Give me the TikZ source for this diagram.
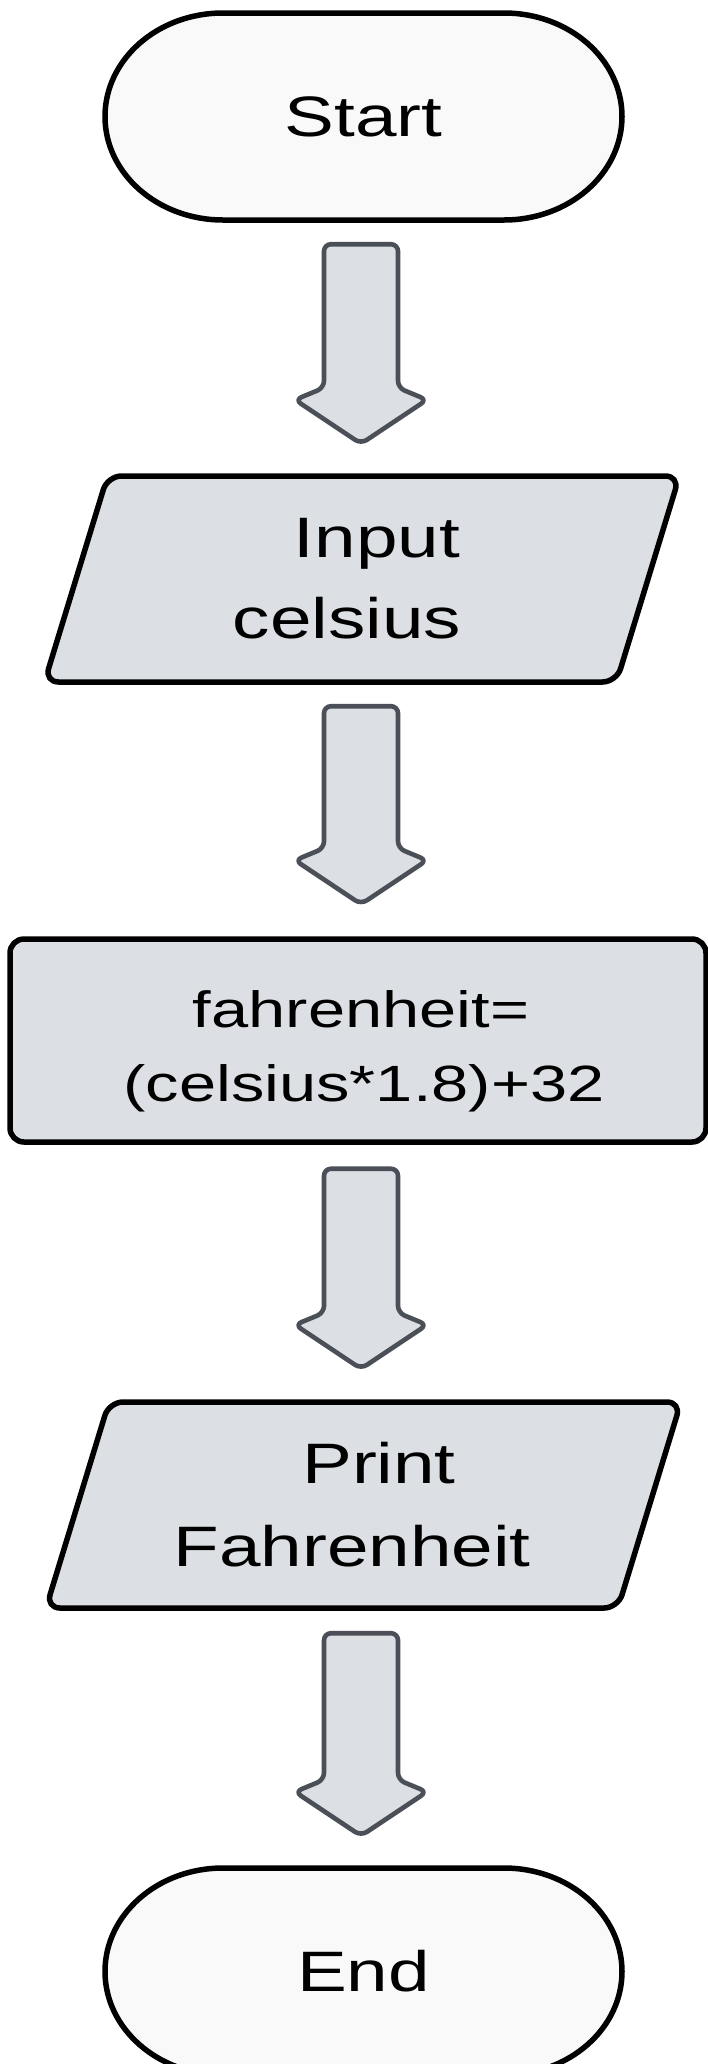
\documentclass[tikz,border=0pt]{standalone}
\usepackage{fontspec}
\setmainfont{Liberation Sans}[FakeStretch=1.31]
\usetikzlibrary{calc,backgrounds}
\definecolor{termfill}{HTML}{F9F9F9}
\definecolor{boxfill}{HTML}{DCDFE3}
\definecolor{arrowline}{HTML}{4A4F58}
\tikzset{
  txt/.style={inner sep=0pt, align=center, font=\fontsize{57pt}{81pt}\selectfont, text=black},
  termline/.style={draw=black, line width=5.5pt, fill=termfill},
  ioline/.style={draw=black, line width=5.5pt, fill=boxfill, rounded corners=14pt},
  procbox/.style={draw=black, line width=5.5pt, fill=boxfill, rounded corners=14pt, inner sep=0pt, align=center,
    minimum width=696pt, minimum height=203pt, font=\fontsize{51pt}{74pt}\selectfont},
  blockarrow/.style={draw=arrowline, line width=4.6pt, fill=boxfill, rounded corners=7pt, line join=round},
}
\newcommand\termoutline[1]{%
  \draw[termline] ($(#1)+(-140.5,-103.5)$) -- ++(281,0)
    arc[start angle=90,end angle=-90,x radius=118pt,y radius=103.5pt] -- ++(-281,0)
    arc[start angle=270,end angle=90,x radius=118pt,y radius=103.5pt] -- cycle;}
\newcommand\iooutline[1]{%
  \draw[ioline] ($(#1)+(-254.5,-103)$) -- ($(#1)+(317.5,-103)$) -- ($(#1)+(254.5,103)$) -- ($(#1)+(-317.5,103)$) -- cycle;}
\newcommand\flowarrow[2]{%
  \draw[blockarrow] let \p1=(#1.south), \p2=(#2.north) in
    ({324pt},{\y1-24pt}) -- ({398pt},{\y1-24pt}) -- ({398pt},{\y2+88pt}) -- ({427pt},{\y2+76pt})
    -- ({361pt},{\y2+32pt}) -- ({295pt},{\y2+76pt}) -- ({324pt},{\y2+88pt}) -- cycle;}
\begin{document}
\begin{tikzpicture}[x=1pt,y=-1pt]
\useasboundingbox (0,0) rectangle (708,2064);
\begin{scope}[on background layer]
  \fill[white] (0,0) rectangle (708,2064);
\end{scope}
\clip (0,0) rectangle (708,2064);
\node[txt, minimum width=517pt, minimum height=207pt] (start) at (363.5,116.5) {Start};
\node[txt, minimum width=572pt, minimum height=206pt] (input) at (362,579) {\rule{30pt}{0pt}Input\\celsius\rule{30pt}{0pt}};
\node[procbox] (proc) at (358,1040.5) {\rule{6pt}{0pt}\rule{0pt}{58pt}fahrenheit=\\\rule{12pt}{0pt}(celsius*1.8)+32};
\node[txt, font=\fontsize{57pt}{83pt}\selectfont, minimum width=572pt, minimum height=208pt] (print) at (363.5,1505) {\rule{31pt}{0pt}Print\\Fahrenheit\rule{23pt}{0pt}};
\node[txt, minimum width=517pt, minimum height=207pt] (end) at (363.5,1971.5) {End};
\begin{scope}[on background layer]
  \clip (0,0) rectangle (708,2064);
  \termoutline{start}
  \iooutline{input}
  \iooutline{print}
  \termoutline{end}
\end{scope}
\flowarrow{start}{input}
\flowarrow{input}{proc}
\flowarrow{proc}{print}
\flowarrow{print}{end}
\end{tikzpicture}
\end{document}
